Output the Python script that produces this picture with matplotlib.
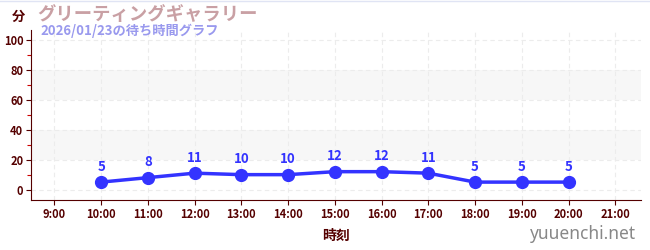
import matplotlib
matplotlib.use("Agg")
import matplotlib.pyplot as plt

plt.rcParams['font.family'] = ['Noto Sans CJK JP', 'DejaVu Sans']

hours = [10, 11, 12, 13, 14, 15, 16, 17, 18, 19, 20]
waits = [5, 8, 11, 10, 10, 12, 12, 11, 5, 5, 5]
tick_hours = list(range(9, 22))
tick_labels = [f"{h}:00" for h in tick_hours]
title = "グリーティングギャラリー"
subtitle = "2026/01/23の待ち時間グラフ"

dark = "#550000"
blue = "#3333ff"

fig = plt.figure(figsize=(6.5, 2.5), dpi=100)
ax = fig.add_axes([31/650, 1-200/250, 610/650, 170/250])
ax.set_xlim(8.5, 21.55)
ax.set_ylim(-7, 107)

for lo, hi in [(20, 40), (60, 80)]:
    ax.axhspan(lo, hi, color="#f7f7f7", zorder=0, lw=0)
for y in range(0, 101, 20):
    ax.axhline(y, color="#ececec", lw=0.8, ls=(0, (4, 3)), zorder=0.5)
for x in tick_hours:
    ax.axvline(x, color="#ececec", lw=0.8, ls=(0, (4, 3)), zorder=0.5)

ax.plot(hours, waits, color=blue, lw=2.5, marker="o", ms=8.5, zorder=3)
for h, w in zip(hours, waits):
    ax.annotate(str(w), (h, w), xytext=(0, 6), textcoords="offset points",
                ha="center", va="bottom", color=blue, fontsize=9.5, fontweight="bold")

ax.set_xticks(tick_hours)
ax.set_xticklabels(tick_labels)
ax.set_yticks(range(0, 101, 20))
ax.set_yticks(range(10, 101, 20), minor=True)
ax.tick_params(axis="both", which="major", colors=dark, labelsize=8, length=3.5, width=0.8, pad=2)
ax.tick_params(axis="y", which="minor", colors="#cc0000", length=3, width=0.8)
for lbl in ax.get_xticklabels() + ax.get_yticklabels():
    lbl.set_color(dark)
    lbl.set_fontweight("bold")
ax.spines["top"].set_visible(False)
ax.spines["right"].set_visible(False)
ax.spines["left"].set_color(dark)
ax.spines["bottom"].set_color(dark)
ax.set_xlabel("時刻", color=dark, fontsize=10, fontweight="bold", labelpad=6)

fig.text(12/650, 1-17/250, "分", color=dark, fontsize=9.5, fontweight="bold", va="center")
fig.text(37/650, 1-15/250, title, color="#c9a0a4", fontsize=13.2, fontweight="bold", va="center")
fig.text(40/650, 1-31/250, subtitle, color="#9999ee", fontsize=9.5, fontweight="bold", va="center")
fig.text(636/650, 1-234/250, "yuuenchi.net", color="#888888", fontsize=12.5, ha="right", va="center",
         family=["Noto Sans", "DejaVu Sans"])
fig.add_artist(plt.Line2D([0, 1], [0.998, 0.998], color="#e0e4f4", lw=1, transform=fig.transFigure))

fig.savefig("out.png", dpi=100)
